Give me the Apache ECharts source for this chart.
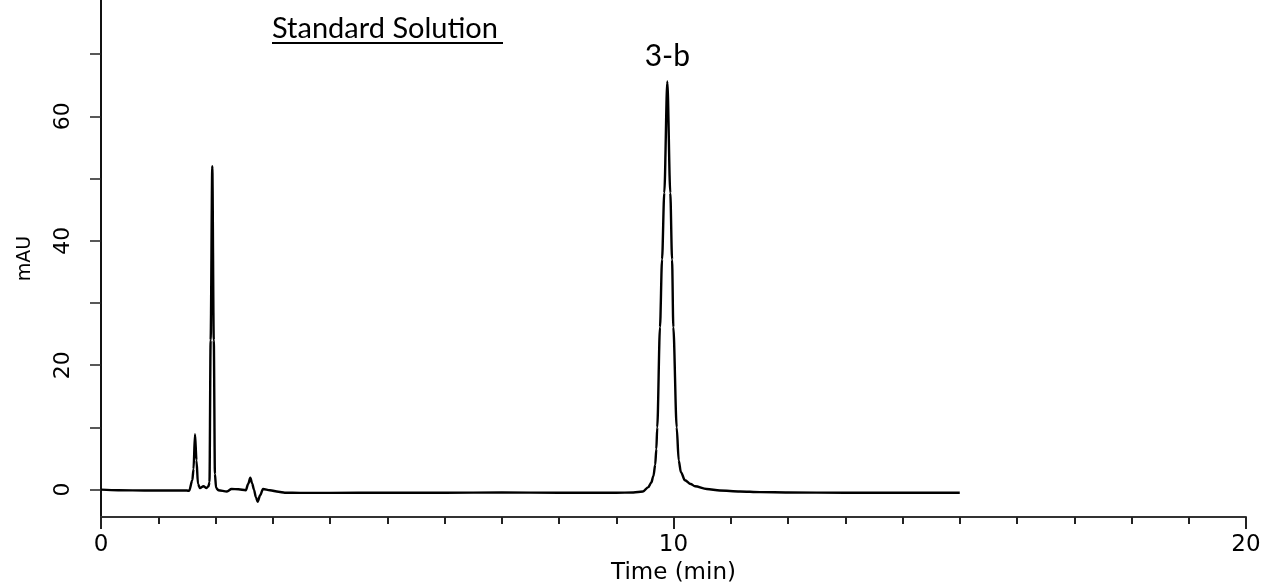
<!DOCTYPE html>
<html>
<head>
<meta charset="utf-8">
<script src="https://cdn.jsdelivr.net/npm/echarts@6/dist/echarts.min.js"></script>
<style>
  html, body { margin: 0; padding: 0; background: #fff; }
  #main { width: 1266px; height: 583px; }
</style>
</head>
<body>
<div id="main"></div>
<script>
// retention time (min) and detector signal (mAU)
var times = [0, 0.3, 0.8, 1.2, 1.5, 1.54, 1.595, 1.616, 1.642, 1.668, 1.694, 1.729, 1.79, 1.843, 1.878,
  1.895, 1.915, 1.944, 1.97, 1.99, 2.01, 2.05, 2.2, 2.28, 2.4, 2.53, 2.57, 2.608, 2.64, 2.672, 2.705,
  2.737, 2.78, 2.83, 2.95, 3.1, 3.21, 3.48, 4, 5, 6, 7, 8, 9, 9.3, 9.467, 9.56, 9.61, 9.65, 9.68, 9.70, 9.716,
  9.764, 9.8, 9.839, 9.892, 9.944, 9.975, 9.997, 10.056, 10.091, 10.13, 10.2, 10.3, 10.376, 10.58, 10.81, 11.16,
  11.51, 12, 13, 14, 15];
var signal = [0, -0.1, -0.15, -0.15, -0.15, -0.2, 1.5, 3.3, 8.9, 4.7, 0.9, 0.25, 0.55, 0.25, 0.55,
  1.2, 24, 52.0, 24, 2.5, 0.3, -0.1, -0.3, 0.1, 0.05, -0.1, 0.9, 1.9, 1.0, 0.0, -1.2,
  -1.95, -0.9, 0.1, -0.1, -0.35, -0.5, -0.52, -0.52, -0.5, -0.5, -0.45, -0.5, -0.5, -0.45, -0.3, 0.4, 1.1, 2.2, 4.0, 6.5, 10.0,
  26.1, 37, 47.7, 65.6, 47.7, 37, 26.1, 10.0, 4.7, 2.8, 1.5, 0.9, 0.55, 0.1, -0.15, -0.3,
  -0.4, -0.45, -0.5, -0.5, -0.5];

var yLabels = [0, 20, 40, 60];
var yTicks = [0, 10, 20, 30, 40, 50, 60, 70];

var peakName = '3-b';
var peakTime = 9.892;
var peakValue = 65.6;

var chart = echarts.init(document.getElementById('main'));

var option = {
    animation: false,
    backgroundColor: '#fff',
    grid: { left: 101, right: 20, top: 0, bottom: 66, containLabel: false, outerBoundsMode: 'none' },
    xAxis: {
        type: 'value',
        min: 0,
        max: 20,
        interval: 10,
        name: 'Time (min)',
        nameLocation: 'middle',
        nameGap: 44,
        nameTextStyle: { fontFamily: 'DejaVu Sans', fontSize: 23, color: '#000' },
        axisLine: { show: true, onZero: false, lineStyle: { color: '#333', width: 2 } },
        axisTick: { show: true, length: 12, lineStyle: { color: '#222', width: 2 } },
        minorTick: { show: true, splitNumber: 10, length: 7, lineStyle: { color: '#222', width: 2 } },
        axisLabel: {
            margin: 17,
            fontFamily: 'DejaVu Sans',
            fontSize: 23,
            color: '#000',
            showMaxLabel: true,
            showMinLabel: true
        },
        splitLine: { show: false },
        minorSplitLine: { show: false }
    },
    yAxis: {
        type: 'value',
        min: -4.4,
        max: 78.7,
        name: 'mAU',
        nameLocation: 'middle',
        nameGap: 66,
        nameRotate: 90,
        nameTextStyle: { fontFamily: 'DejaVu Sans', fontSize: 19, color: '#000' },
        axisLine: { show: true, onZero: false, lineStyle: { color: '#111', width: 2 } },
        axisTick: { show: true, length: 11, customValues: yTicks, lineStyle: { color: '#222', width: 1.5 } },
        axisLabel: {
            customValues: yLabels,
            rotate: 90,
            margin: 27,
            fontFamily: 'DejaVu Sans',
            fontSize: 22,
            color: '#000'
        },
        splitLine: { show: false }
    },
    graphic: [
        {
            type: 'text',
            left: 272,
            top: 14,
            style: {
                text: 'Standard Solution',
                font: '29px Lato',
                fill: '#000'
            }
        },
        {
            type: 'rect',
            left: 272,
            top: 42,
            shape: { width: 231, height: 2 },
            style: { fill: '#000' }
        }
    ],
    series: [
        {
            type: 'line',
            data: times.map(function (t, i) { return [t, signal[i]]; }),
            showSymbol: false,
            smooth: 0.3,
            smoothMonotone: 'x',
            lineStyle: { color: '#000', width: 2.4 },
            markPoint: {
                symbol: 'circle',
                symbolSize: 0,
                label: {
                    show: true,
                    position: 'top',
                    distance: 10,
                    formatter: peakName,
                    fontFamily: 'Lato',
                    fontSize: 30,
                    color: '#000'
                },
                data: [{ coord: [peakTime, peakValue] }]
            }
        }
    ]
};

chart.setOption(option);
</script>
</body>
</html>
